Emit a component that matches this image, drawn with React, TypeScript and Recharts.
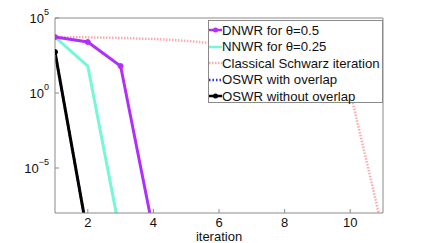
import { LineChart, Line, XAxis, YAxis } from "recharts"

// iteration numbers and error values (log scale)
const iterations = [1, 2, 3, 4, 5, 6, 7, 8, 9, 10, 11]
const dnwr = [5.4e3, 2.5e3, 63, 6e-10]
const nnwr = [5.4e3, 63, 3e-10]
const classical = [5.4e3, 5.1e3, 4.7e3, 4.0e3, 3.0e3, 1.9e3, 9.5e2, 3.5e2, 50, 1.2, 6e-10]
const oswrOverlap = [5.4e2, 3e-10]
const oswrNoOverlap = [5.4e2, 3e-10]

const xTicks = [2, 4, 6, 8, 10]
const yTicks = [1e-5, 1, 1e5]

const font = "'Liberation Sans', Arial, Helvetica, sans-serif"
const frame = "#8a8a8a"

const data = iterations.map((it, i) => ({
  it,
  dnwr: dnwr[i],
  nnwr: nnwr[i],
  classical: classical[i],
  oswrOverlap: oswrOverlap[i],
  oswrNoOverlap: oswrNoOverlap[i],
}))

const legendItems = [
  { label: "DNWR for θ=0.5", color: "#b030f8", dash: undefined, dot: true },
  { label: "NNWR for θ=0.25", color: "#75f7d8", dash: undefined, dot: false },
  { label: "Classical Schwarz iteration", color: "#ffaaaa", dash: "1.5 1.5", dot: false },
  { label: "OSWR with overlap", color: "#2233ff", dash: "1.5 2", dot: false },
  { label: "OSWR without overlap", color: "#000000", dash: undefined, dot: true },
]

function YTick(props: any) {
  const { x, y, payload } = props
  const exp = Math.round(Math.log10(payload.value))
  const expText = exp < 0 ? "\u2212" + Math.abs(exp) : String(exp)
  return (
    <text x={x} y={y} textAnchor="end" fontFamily={font} fill="#111">
      <tspan fontSize={13} dy={5}>10</tspan>
      <tspan fontSize={9} dy={-8}>{expText}</tspan>
    </text>
  )
}

export default function App() {
  return (
    <div style={{ position: "absolute", left: 0, top: 0, width: 424, height: 243, background: "#fff" }}>
      <LineChart
        width={424}
        height={243}
        data={data}
        margin={{ top: 17, right: 40, bottom: 0, left: 5 }}
      >
        <XAxis
          dataKey="it"
          type="number"
          domain={[1, 11]}
          ticks={xTicks}
          allowDataOverflow
          height={30}
          tickSize={-4}
          tickMargin={9}
          stroke={frame}
          tick={{ fontSize: 13, fill: "#111", fontFamily: font }}
          label={{ value: "iteration", position: "insideBottom", offset: 2, fontSize: 13, fill: "#111", fontFamily: font }}
        />
        <XAxis
          xAxisId="top"
          orientation="top"
          dataKey="it"
          type="number"
          domain={[1, 11]}
          ticks={xTicks}
          allowDataOverflow
          height={1}
          tickSize={-4}
          stroke={frame}
          tick={false}
        />
        <YAxis
          scale="log"
          domain={[1e-8, 1e5]}
          ticks={yTicks}
          allowDataOverflow
          width={50}
          tickSize={-4}
          tickMargin={10}
          stroke={frame}
          tick={<YTick />}
        />
        <YAxis
          yAxisId="right"
          orientation="right"
          scale="log"
          domain={[1e-8, 1e5]}
          ticks={yTicks}
          allowDataOverflow
          width={1}
          tickSize={-4}
          stroke={frame}
          tick={false}
        />
        <Line
          dataKey="classical"
          stroke="#ffaaaa"
          strokeWidth={2.5}
          strokeDasharray="1.5 1.5"
          dot={false}
          isAnimationActive={false}
        />
        <Line
          dataKey="nnwr"
          stroke="#75f7d8"
          strokeWidth={3}
          dot={false}
          isAnimationActive={false}
        />
        <Line
          dataKey="dnwr"
          stroke="#b030f8"
          strokeWidth={3}
          dot={{ r: 2.5, fill: "#b030f8", stroke: "#b030f8", strokeWidth: 1 }}
          isAnimationActive={false}
        />
        <Line
          dataKey="oswrOverlap"
          stroke="#2233ff"
          strokeWidth={2.5}
          strokeDasharray="1.5 2"
          dot={false}
          isAnimationActive={false}
        />
        <Line
          dataKey="oswrNoOverlap"
          stroke="#000"
          strokeWidth={3}
          dot={{ r: 2.5, fill: "#000", stroke: "#000", strokeWidth: 1 }}
          isAnimationActive={false}
        />
      </LineChart>
      <div
        style={{
          position: "absolute",
          left: 208,
          top: 20,
          width: 175,
          height: 83,
          background: "#fff",
          border: `1px solid ${frame}`,
          fontFamily: font,
          fontSize: 13.2,
          color: "#111",
          boxSizing: "border-box",
          paddingTop: 1,
        }}
      >
        {legendItems.map((item) => (
          <div key={item.label} style={{ display: "flex", alignItems: "center", height: 16.5, whiteSpace: "nowrap" }}>
            <svg width={13} height={10} style={{ flex: "none" }}>
              <line
                x1={0}
                y1={5}
                x2={13}
                y2={5}
                stroke={item.color}
                strokeWidth={2.5}
                strokeDasharray={item.dash}
              />
              {item.dot && <circle cx={6.5} cy={5} r={2.5} fill={item.color} />}
            </svg>
            <span>{item.label}</span>
          </div>
        ))}
      </div>
    </div>
  )
}
